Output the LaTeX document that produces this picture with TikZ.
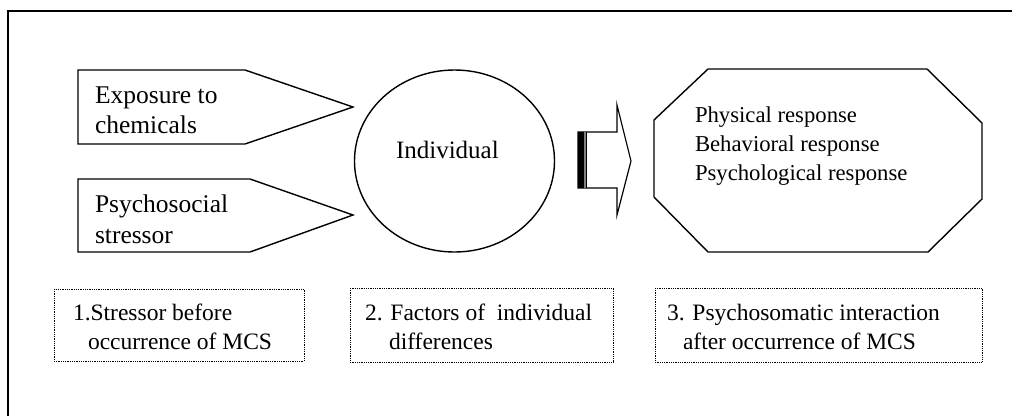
\documentclass[tikz,border=0pt]{standalone}
\usepackage{fontspec}
\setmainfont{Liberation Serif}
\begin{document}
\begin{tikzpicture}[x=1pt,y=-1pt,
  shp/.style={line width=1.4pt, line join=miter},
  dotbox/.style={line width=0.9pt, dash pattern=on 1pt off 0.8pt},
  lbl/.style={anchor=base west, inner sep=0pt, outer sep=0pt},
  bigtxt/.style={lbl, font=\fontsize{25.5}{30}\selectfont},
  midtxt/.style={lbl, font=\fontsize{22.7}{28}\selectfont},
  boxtxt/.style={lbl, font=\fontsize{23.5}{28}\selectfont},
]
\useasboundingbox (0,0) rectangle (1018,416);
% frame
\draw[line width=1.2pt] (1012,11) -- (8,11) -- (8,416);
% pentagons
\draw[shp] (78,70) -- (245,70) -- (353,107) -- (245,144) -- (78,144) -- cycle;
\draw[shp] (78,179) -- (250,179) -- (353,215) -- (250,252) -- (78,252) -- cycle;
\node[bigtxt] (e1) at (95,103) {Exposure to};
\node[bigtxt] (e2) at (95,133) {chemicals};
\node[bigtxt] (p1) at (95,212) {Psychosocial};
\node[bigtxt] (p2) at (95,243) {stressor};
% individual
\draw[shp] (454.5,161) ellipse [x radius=100, y radius=91];
\node[lbl, font=\fontsize{25}{30}\selectfont] (ind) at (396,158) {Individual};
% block arrow
\draw[shp, line width=1.2pt] (578,132) -- (617,132) -- (617,105) -- (631,161) -- (617,215) -- (617,188) -- (578,188) -- cycle;
\fill (578,132) rectangle (583.5,188);
\fill[gray] (583.5,132) rectangle (585.6,188);
\draw[line width=1.2pt] (586.2,132) -- (586.2,188);
% octagon
\draw[shp] (708,69) -- (927,69) -- (982,123) -- (982,199) -- (928,252) -- (708,252) -- (654,197) -- (654,120) -- cycle;
\node[midtxt] (r1) at (695,122) {Physical response};
\node[midtxt] (r2) at (695,151) {Behavioral response};
\node[midtxt] (r3) at (695,180) {Psychological response};
% dotted boxes
\draw[dotbox] (54,289) rectangle (304,361);
\draw[dotbox] (350,288) rectangle (613,362);
\draw[dotbox] (655,288) rectangle (982,362);
\node[boxtxt] (b1a) at (73,320) {1.Stressor before};
\node[boxtxt] (b1b) at (88,349) {occurrence of MCS};
\node[boxtxt] (b2a) at (365,320) {2. Factors of\ \ individual};
\node[boxtxt] (b2b) at (389,349) {differences};
\node[boxtxt] (b3a) at (667,320) {3. Psychosomatic interaction};
\node[boxtxt] (b3b) at (683,349) {after occurrence of MCS};
\end{tikzpicture}
\end{document}
